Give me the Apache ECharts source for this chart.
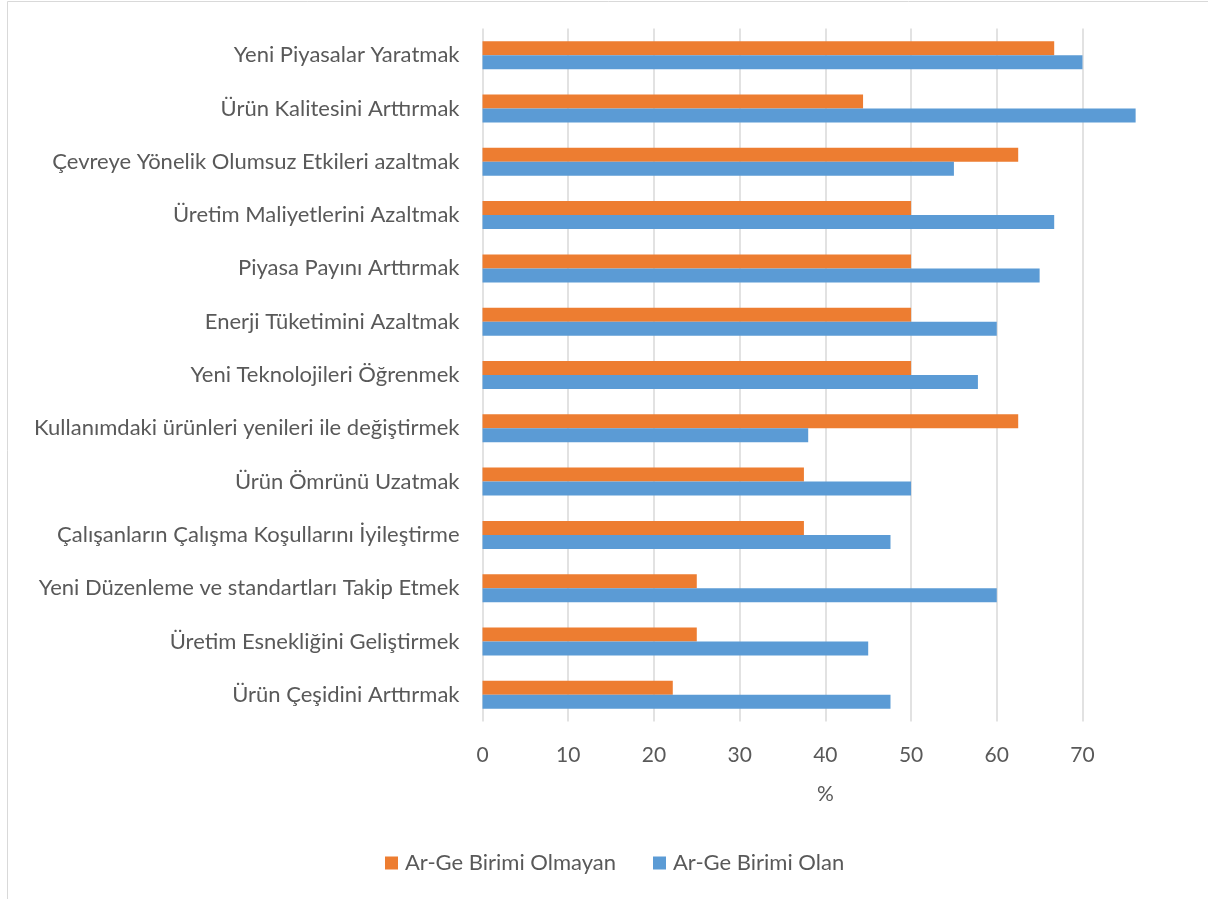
<!DOCTYPE html>
<html>
<head>
<meta charset="utf-8">
<style>
  html, body { margin: 0; padding: 0; background: #fff; }
  #main { width: 1208px; height: 899px; }
</style>
</head>
<body>
<div id="main"></div>
<script src="https://cdn.jsdelivr.net/npm/echarts@6.0.0/dist/echarts.min.js"></script>
<script>
// categories, top to bottom
var categories = [
  'Yeni Piyasalar Yaratmak',
  'Ürün Kalitesini Arttırmak',
  'Çevreye Yönelik Olumsuz Etkileri azaltmak',
  'Üretim Maliyetlerini Azaltmak',
  'Piyasa Payını Arttırmak',
  'Enerji Tüketimini Azaltmak',
  'Yeni Teknolojileri Öğrenmek',
  'Kullanımdaki ürünleri yenileri ile değiştirmek',
  'Ürün Ömrünü Uzatmak',
  'Çalışanların Çalışma Koşullarını İyileştirme',
  'Yeni Düzenleme ve standartları Takip Etmek',
  'Üretim Esnekliğini Geliştirmek',
  'Ürün Çeşidini Arttırmak'
];

var seriesNames = ['Ar-Ge Birimi Olmayan', 'Ar-Ge Birimi Olan'];

var olmayan = [66.7, 44.4, 62.5, 50, 50, 50, 50, 62.5, 37.5, 37.5, 25, 25, 22.2];
var olan = [70, 76.2, 55, 66.7, 65, 60, 57.8, 38, 50, 47.6, 60, 45, 47.6];

var xTicks = [0, 10, 20, 30, 40, 50, 60, 70];

var textColor = '#595959';
var gridColor = '#d9d9d9';
var font = 'Lato, "Open Sans", sans-serif';

var myChart = echarts.init(document.getElementById('main'));

myChart.setOption({
  animation: false,
  backgroundColor: '#fff',
  textStyle: { fontFamily: font },
  graphic: [{
    type: 'rect',
    shape: { x: 7.5, y: 1.5, width: 1400, height: 1000 },
    style: { fill: 'none', stroke: '#d9d9d9', lineWidth: 1 },
    silent: true
  }],
  grid: {
    left: 482.5,
    right: 39.8,
    top: 28.5,
    bottom: 177.5
  },
  legend: {
    data: seriesNames,
    left: 380,
    top: 847,
    itemWidth: 13,
    itemHeight: 13,
    itemGap: 37,
    icon: 'rect',
    textStyle: { color: textColor, fontSize: 22, fontFamily: font, padding: [0, 0, 0, 2] }
  },
  xAxis: {
    type: 'value',
    min: 0,
    max: 80,
    interval: 10,
    name: '%',
    nameLocation: 'middle',
    nameGap: 62,
    nameTextStyle: { color: textColor, fontSize: 21, fontFamily: font },
    axisLine: { show: false },
    axisTick: { show: false },
    axisLabel: {
      color: textColor,
      fontSize: 21,
      margin: 23,
      fontFamily: font,
      formatter: function (v) { return xTicks.indexOf(v) >= 0 ? String(v) : ''; }
    },
    splitLine: {
      show: true,
      showMaxLine: false,
      lineStyle: { color: gridColor, width: 1.5 }
    }
  },
  yAxis: {
    type: 'category',
    inverse: true,
    data: categories,
    axisLine: { show: false },
    axisTick: { show: false },
    axisLabel: { color: textColor, fontSize: 22, margin: 23, fontFamily: font }
  },
  series: [
    {
      name: seriesNames[0],
      type: 'bar',
      data: olmayan,
      barWidth: 14,
      barGap: '0%',
      clip: false,
      itemStyle: { color: '#ED7D31' }
    },
    {
      name: seriesNames[1],
      type: 'bar',
      data: olan,
      barWidth: 14,
      barGap: '0%',
      clip: false,
      itemStyle: { color: '#5B9BD5' }
    }
  ]
});
</script>
</body>
</html>
